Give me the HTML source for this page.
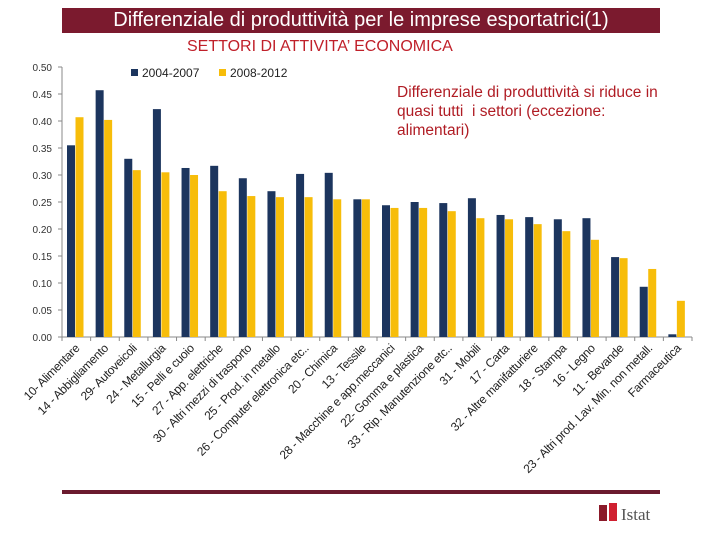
<!DOCTYPE html>
<html><head><meta charset="utf-8"><style>
body{margin:0;width:720px;height:540px;background:#fff;font-family:"Liberation Sans",sans-serif;overflow:hidden;position:relative}
.t{position:absolute}
</style></head><body>
<div class="t" style="left:62px;top:8px;width:598px;height:25px;background:#7b1a2e;color:#fff;font-size:20px;line-height:25px;text-align:center;white-space:nowrap">Differenziale di produttività per le imprese esportatrici(1)</div>
<div class="t" style="left:187px;top:38px;color:#c0202a;font-size:16px;white-space:nowrap">SETTORI DI ATTIVITA’ ECONOMICA</div>
<div class="t" style="left:397px;top:83px;color:#b01c24;font-size:15.5px;line-height:19px;white-space:nowrap">Differenziale di produttività si riduce in<br>quasi tutti &nbsp;i settori (eccezione:<br>alimentari)</div>
<svg class="t" style="left:0;top:0" width="720" height="540">
<g id="g"></g>
<rect x="62" y="490" width="598" height="4" fill="#6b1a2e"/>
<g><rect x="599" y="505" width="8" height="16" fill="#8b1a2a"/><rect x="609" y="503" width="8" height="18" fill="#d02030"/><text x="621" y="520" font-family="Liberation Serif" font-size="17" fill="#555">Istat</text></g>
</svg>
<script>
const categories=["10- Alimentare","14 - Abbigliamento","29- Autoveicoli","24 - Metallurgia","15 - Pelli e cuoio","27 - App. elettriche","30 - Altri mezzi di trasporto","25 - Prod. in metallo","26 - Computer elettronica etc..","20 - Chimica","13 - Tessile","28 - Macchine e app.meccanici","22- Gomma e plastica","33 - Rip. Manutenzione etc..","31 - Mobili","17 - Carta","32 - Altre manifatturiere","18 - Stampa","16 - Legno","11 - Bevande","23 - Altri prod. Lav. Min. non metall.","Farmaceutica"];
const s2004=[0.355,0.457,0.330,0.422,0.313,0.317,0.294,0.270,0.302,0.304,0.255,0.244,0.250,0.248,0.257,0.226,0.222,0.218,0.220,0.148,0.093,0.005];
const s2008=[0.407,0.402,0.309,0.305,0.300,0.270,0.261,0.259,0.259,0.255,0.255,0.239,0.239,0.233,0.220,0.218,0.209,0.196,0.180,0.146,0.126,0.067];
const ticks=["0.00","0.05","0.10","0.15","0.20","0.25","0.30","0.35","0.40","0.45","0.50"];
const NS="http://www.w3.org/2000/svg",g=document.getElementById('g');
const x0=62,x1=692,y0=337,yTop=67,vmax=0.5;
const y=v=>y0-(v/vmax)*(y0-yTop);
const slot=(x1-x0)/categories.length;
function el(t,a,p){const e=document.createElementNS(NS,t);for(const k in a)e.setAttribute(k,a[k]);(p||g).appendChild(e);return e;}
let ax=el('line',{x1:x0,y1:yTop,x2:x0,y2:y0,stroke:'#888'});


let bx=el('line',{x1:x0,y1:y0,x2:x1,y2:y0,stroke:'#888'});


ticks.forEach(t=>{const v=parseFloat(t),yy=y(v);
el('line',{x1:x0-4,y1:yy,x2:x0,y2:yy,stroke:'#888'});
const tx=el('text',{x:x0-10,y:yy+4,'text-anchor':'end','font-size':10,fill:'#333'});tx.textContent=t;

});
for(let i=0;i<=categories.length;i++){el('line',{x1:x0+i*slot,y1:y0,x2:x0+i*slot,y2:y0+4,stroke:'#888'});}
categories.forEach((c,i)=>{const sx=x0+i*slot;
const b1=el('rect',{x:sx+5,y:y(s2004[i]),width:8,height:y0-y(s2004[i]),fill:'#1c355e'});


const b2=el('rect',{x:sx+13.5,y:y(s2008[i]),width:8,height:y0-y(s2008[i]),fill:'#f7bd0a'});


const cx=sx+slot/2+4,ty=y0+12;
const t=el('text',{x:cx,y:ty,'text-anchor':'end','font-size':12,'letter-spacing':'-0.3',fill:'#222',transform:`rotate(-45 ${cx} ${ty})`});t.textContent=c;

});
const lg=el('g',{});


el('rect',{x:131,y:69,width:7,height:7,fill:'#1c355e'},lg);
let l1=el('text',{x:142,y:77,'font-size':12,fill:'#222'},lg);l1.textContent='2004-2007';
el('rect',{x:219,y:69,width:7,height:7,fill:'#f7bd0a'},lg);
let l2=el('text',{x:230,y:77,'font-size':12,fill:'#222'},lg);l2.textContent='2008-2012';
</script>
</body></html>
